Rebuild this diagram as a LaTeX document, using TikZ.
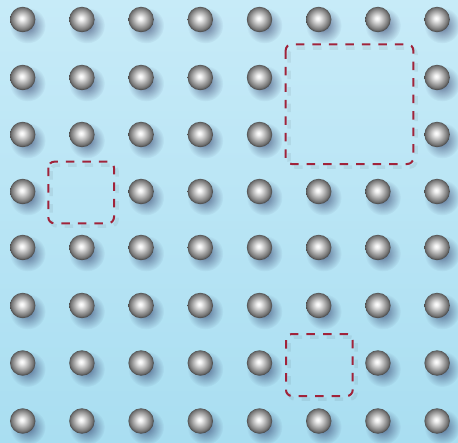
\documentclass[tikz,border=0pt]{standalone}
\usetikzlibrary{fadings}
\definecolor{vacred}{HTML}{A0233A}
\definecolor{bgtop}{HTML}{C7EBF8}
\definecolor{bgbot}{HTML}{A9DEF1}
\pgfdeclareradialshading{sphereshade}{\pgfpoint{-2bp}{2.5bp}}{color(0bp)=(white); color(4bp)=(white!94!black); color(11bp)=(black!25); color(17bp)=(black!42); color(22bp)=(black!56); color(24.3bp)=(black!68); color(25bp)=(black!72); color(50bp)=(black!72)}
\tikzfading[name=softshadow, inner color=transparent!0, outer color=transparent!100]
\tikzset{
  ball/.style={shading=sphereshade},
  ballshadow/.style={fill=black!80!blue, fill opacity=0.5, path fading=softshadow},
  vacancy/.style={draw=vacred, line width=2pt, dash pattern=on 8.5pt off 8pt, rounded corners=6pt},
  vacshadow/.style={draw=black, draw opacity=0.06, line width=3.5pt, dash pattern=on 8.5pt off 8pt, rounded corners=6pt},
}
\begin{document}
\begin{tikzpicture}[x=1pt,y=-1pt]
\shade[top color=bgtop,bottom color=bgbot] (0,0) rectangle (458,442);
\useasboundingbox (0,0) rectangle (458,442);
\def\rowys{19.5,77.5,134.5,191.5,247.5,305.5,363,421}
% shadows
\foreach \yy [count=\ri from 0] in \rowys {
  \foreach \c in {0,...,7} {
    \pgfmathtruncatemacro\miss{((\c==5 || \c==6) && (\ri==1 || \ri==2)) || (\c==1 && \ri==3) || (\c==5 && \ri==6)}
    \ifnum\miss=0
      \path[ballshadow] ({22.7+59.2*\c+5},{\yy+6}) circle (18);
    \fi
  }
}
% vacancy shadows
\draw[vacshadow] (289,48) rectangle (416,167);
\draw[vacshadow] (51,165) rectangle (117,226);
\draw[vacshadow] (289,337) rectangle (356,399);
% balls
\foreach \yy [count=\ri from 0] in \rowys {
  \foreach \c in {0,...,7} {
    \pgfmathtruncatemacro\miss{((\c==5 || \c==6) && (\ri==1 || \ri==2)) || (\c==1 && \ri==3) || (\c==5 && \ri==6)}
    \ifnum\miss=0
      \path[ball] ({22.7+59.2*\c},{\yy}) circle (12.7);
    \fi
  }
}
% vacancies
\draw[vacancy] (285.7,44.3) rectangle (413.3,164);
\draw[vacancy] (48.3,161.7) rectangle (114,223.3);
\draw[vacancy] (286,334) rectangle (352.7,396);
\end{tikzpicture}
\end{document}
